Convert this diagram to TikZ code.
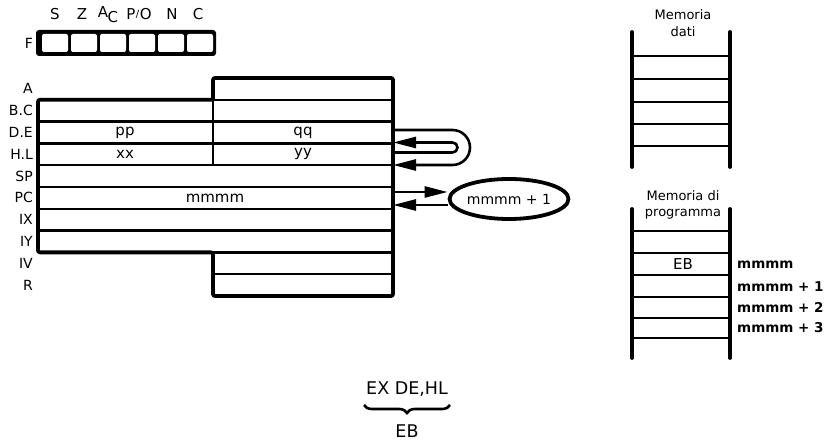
\documentclass[tikz,border=0pt]{standalone}
\usepackage{fontspec}
\setmainfont{DejaVu Sans}
\usetikzlibrary{arrows.meta,shapes.geometric,decorations.pathreplacing}
\begin{document}
\begin{tikzpicture}[x=1pt,y=-1pt,
  lbl/.style={font=\fontsize{14}{16}\selectfont, inner sep=0pt},
  cont/.style={font=\fontsize{15}{17}\selectfont, inner sep=0pt},
  reglbl/.style={lbl, anchor=east},
  memtxt/.style={font=\fontsize{13}{15}\selectfont, inner sep=0pt},
  addr/.style={font=\fontsize{13.5}{15}\selectfont\bfseries, inner sep=0pt, anchor=west},
  outerline/.style={line width=3.8pt, line join=round},
  sepline/.style={line width=2.4pt},
  arr/.style={line width=2.6pt, -{Triangle[length=23pt,width=11pt]}},
  memside/.style={line width=3.8pt, line cap=round},
  memcell/.style={line width=2.6pt}]
\useasboundingbox (0,0) rectangle (831,443);

% ---- flag register F ----
\fill[rounded corners=3pt] (36,30) rectangle (216,56);
\foreach \i in {0,...,5}
  \fill[white, rounded corners=2pt] ({42+\i*29},34) rectangle ({68+\i*29},52);
\node[lbl] (fF) at (29,43) {F};
\node[cont] (fS) at (55,14) {S};
\node[cont] (fZ) at (82,14) {Z};
\node[cont] (fA) at (108,15) {A\kern-0.5pt\raisebox{-5pt}{C}};
\node[cont] (fP) at (139,14) {P\kern0.5pt\raisebox{1.5pt}{\fontsize{10}{10}\selectfont/}\kern0.5pt O};
\node[cont] (fN) at (172,14) {N};
\node[cont] (fC) at (198,14) {C};

% ---- register file ----
\draw[outerline, rounded corners=2pt] (213,78) -- (393,78) -- (393,296) -- (213,296)
  -- (213,252.4) -- (38,252.4) -- (38,99.8) -- (213,99.8) -- cycle;
\draw[sepline] (213,99.8) -- (393,99.8);
\foreach \k in {2,...,7}
  \draw[sepline] (38,{78+21.8*\k}) -- (393,{78+21.8*\k});
\draw[sepline] (213,252.4) -- (393,252.4);
\draw[sepline] (213,274.2) -- (393,274.2);
\draw[sepline] (213,99.8) -- (213,165.2);

\foreach \k/\t/\n in {0/A/A,1/B.C/BC,2/D.E/DE,3/H.L/HL,4/SP/SP,5/PC/PC,6/IX/IX,7/IY/IY,8/IV/IV,9/R/R}
  \node[reglbl] (l\n) at (33,{88.9+21.8*\k}) {\t};

\node[cont] (pp) at (125,132.5) {pp};
\node[cont] (qq) at (303,132.5) {qq};
\node[cont] (xx) at (125,154.3) {xx};
\node[cont] (yy) at (303,154.3) {yy};
\node[cont] (mm) at (215,197.9) {mmmm};

% ---- exchange loop ----
\coordinate (deout) at (393,130);
\coordinate (hlin) at (393,165);
\coordinate (hlout) at (393,152.5);
\coordinate (dein) at (393,142.5);
\coordinate (loopR) at (470,147.5);
\coordinate (loopr) at (457.5,147.5);
\draw[arr, rounded corners=17.5pt] (deout) -- (deout -| loopR) -- (hlin -| loopR) -- (hlin);
\draw[arr, rounded corners=5pt] (hlout) -- (hlout -| loopr) -- (dein -| loopr) -- (dein);

% ---- PC increment ----
\node[ellipse, draw, line width=3.8pt, minimum width=112pt, minimum height=40pt,
      inner sep=0pt, font=\fontsize{14}{16}\selectfont] (ell) at (509,199) {mmmm + 1};
\coordinate (pcout) at (393,192);
\coordinate (pcin) at (393,205);
\draw[arr] (pcout) -- (pcout -| ell.west);
\draw[arr] (pcin -| ell.west) -- (pcin);

% ---- data memory ----
\node[memtxt] (md1) at (683,15) {Memoria};
\node[memtxt] (md2) at (683,32) {dati};
\draw[memside] (632,32) -- (632,167);
\draw[memside] (730,32) -- (730,167);
\foreach \y in {56,79,102,124,146}
  \draw[memcell] (632,\y) -- (730,\y);

% ---- program memory ----
\node[memtxt] (mp1) at (683,196) {Memoria di};
\node[memtxt] (mp2) at (683,214) {programma};
\draw[memside] (632,209) -- (632,358);
\draw[memside] (730,209) -- (730,358);
\foreach \y in {231,253,275,297,318,338}
  \draw[memcell] (632,\y) -- (730,\y);
\node[cont] (eb1) at (683,264) {EB};
\node[addr] (a0) at (737,265) {mmmm};
\node[addr] (a1) at (737,287) {mmmm + 1};
\node[addr] (a2) at (737,307) {mmmm + 2};
\node[addr] (a3) at (737,328) {mmmm + 3};

% ---- instruction ----
\node[font=\fontsize{17.5}{20}\selectfont, inner sep=0pt] (ex) at (407,389) {EX DE,HL};
\coordinate (bl) at (364,405);
\coordinate (br) at (450,405);
\draw[decorate, decoration={brace, mirror, amplitude=8pt}, line width=2.6pt] (bl) -- (br);
\node[font=\fontsize{17.5}{20}\selectfont, inner sep=0pt] (eb2) at (407,431) {EB};
\end{tikzpicture}
\end{document}
